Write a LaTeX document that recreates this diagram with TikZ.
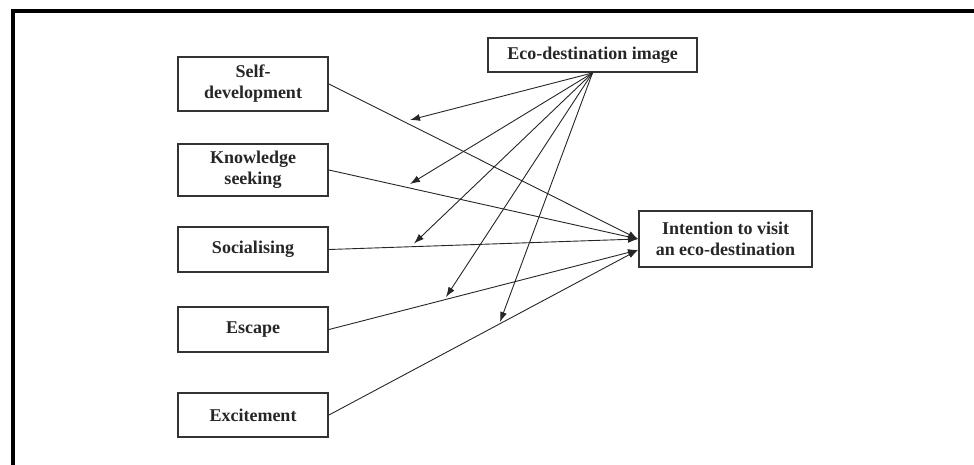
\documentclass[tikz,border=0pt]{standalone}
\usepackage{fontspec}
\setmainfont{Liberation Serif}
\usetikzlibrary{arrows.meta}
\tikzset{%
  factor/.style = {draw=black!80, line width=2.4pt, align=center,
    inner sep=2pt, text=black!85,
    font=\bfseries\fontsize{18}{21}\selectfont},
  link/.style = {draw=black!85, line width=0.9pt,
    -{Latex[length=10pt,width=7pt]}}
}

\begin{document}
\begin{tikzpicture}[x=1pt,y=-1pt]
  \useasboundingbox (0,0) rectangle (974,464);
  % frame
  \draw[line width=3.5pt] (13,470) -- (13,11) -- (980,11);
  % motivation factors
  \node[factor, minimum width=149.5pt, minimum height=53.5pt] (selfdev) at (253,84) {Self-\\development};
  \node[factor, minimum width=149.5pt, minimum height=51.5pt] (knowledge) at (253,170) {Knowledge\\seeking};
  \node[factor, minimum width=149.5pt, minimum height=44.5pt] (social) at (253,249.5) {Socialising};
  \node[factor, minimum width=149.5pt, minimum height=44.5pt] (escape) at (253,329.5) {Escape};
  \node[factor, minimum width=149.5pt, minimum height=43.5pt] (excite) at (253,415) {Excitement};
  % image and intention
  \node[factor, minimum width=208.5pt, minimum height=33.5pt] (image) at (592.5,55) {Eco-destination image};
  \node[factor, minimum width=172.5pt, minimum height=55.5pt] (intention) at (725.5,239) {Intention to visit\\an eco-destination};
  \coordinate (lowin) at (638,250);
  % arrow tips of the image links
  \coordinate (tipa) at (410,120);
  \coordinate (tipb) at (410,184);
  \coordinate (tipc) at (414,243.5);
  \coordinate (tipd) at (446,297);
  \coordinate (tipe) at (500,322);
  % links to intention
  \draw[link] (selfdev.east) -- (intention.west);
  \draw[link] (knowledge.east) -- (intention.west);
  \draw[link] (social.east) -- (intention.west);
  \draw[link] (escape.east) -- (lowin);
  \draw[link] (excite.east) -- (lowin);
  % links from image
  \draw[link] (image.south) -- (tipa);
  \draw[link] (image.south) -- (tipb);
  \draw[link] (image.south) -- (tipc);
  \draw[link] (image.south) -- (tipd);
  \draw[link] (image.south) -- (tipe);
\end{tikzpicture}
\end{document}
